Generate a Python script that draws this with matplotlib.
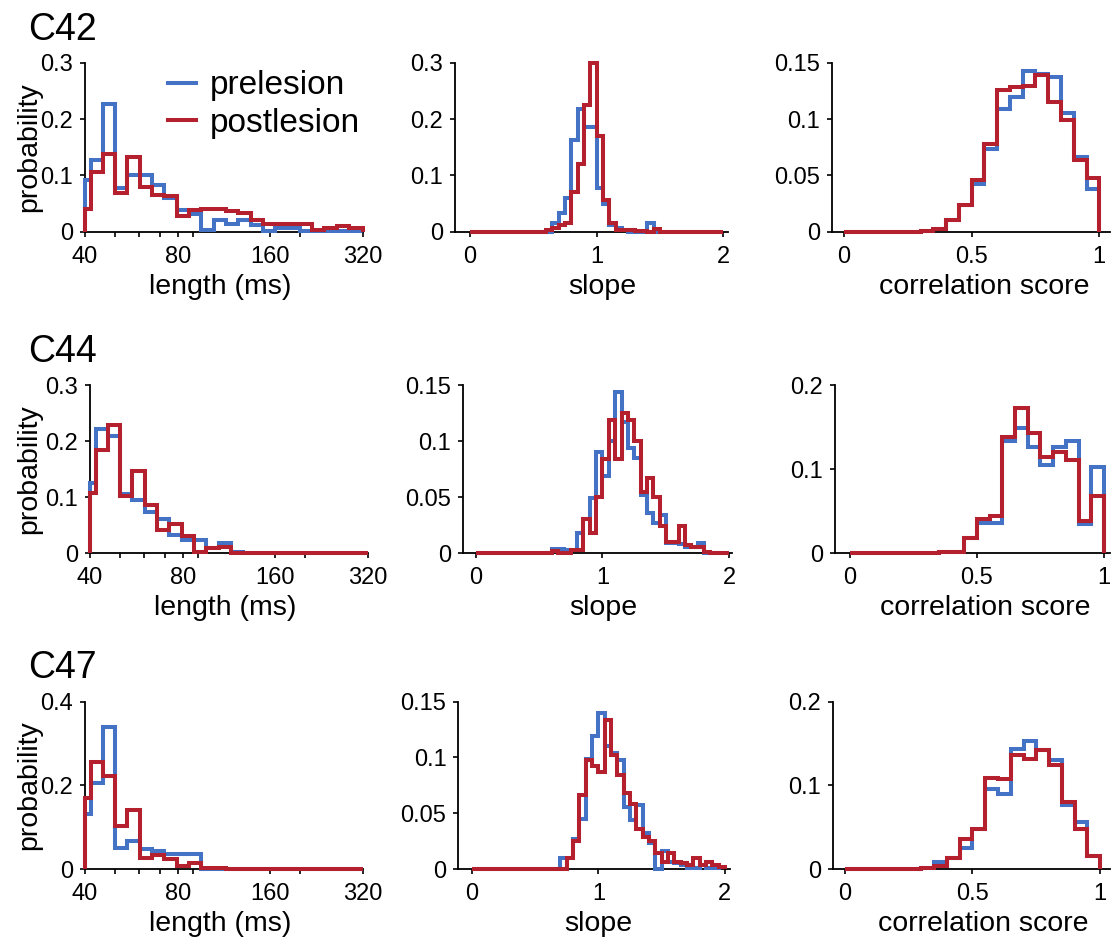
import matplotlib
matplotlib.use("Agg")
import matplotlib.pyplot as plt
import numpy as np
from matplotlib.ticker import FixedLocator, FuncFormatter, NullFormatter

plt.rcParams["font.family"] = ["Liberation Sans", "DejaVu Sans"]

BLUE = "#4472C4"
RED = "#B5202E"

ANIMALS = ["C42", "C44", "C47"]

# length bins are log spaced (0.04 in log10), clipped to the 40-320 ms axis
LENGTH_EDGES = [40.0] + list(10 ** np.arange(1.62, 2.5001, 0.04)) + [320.0]
SLOPE_EDGES = np.linspace(0, 2, 41)
CORR_EDGES = np.linspace(0, 1, 21)

# ---- C42 ----
C42_LEN_PRE = [0.092, 0.127, 0.227, 0.077, 0.100, 0.100, 0.083, 0.060, 0.038, 0.032,
               0.003, 0.021, 0.014, 0.021, 0.012, 0.001, 0.006, 0.006, 0.002, 0.001,
               0.001, 0.001, 0.001, 0.001]
C42_LEN_POST = [0.041, 0.106, 0.138, 0.068, 0.132, 0.080, 0.065, 0.063, 0.027, 0.038,
                0.041, 0.041, 0.036, 0.033, 0.020, 0.013, 0.013, 0.013, 0.013, 0.003,
                0.007, 0.011, 0.006, 0.006]
C42_SLOPE_PRE = [0] * 13 + [0.015, 0.033, 0.059, 0.163, 0.217, 0.186, 0.186, 0.077, 0.050,
                            0.012, 0.006, 0.003, 0, 0, 0, 0.015, 0, 0, 0, 0, 0, 0, 0,
                            0, 0, 0, 0]
C42_SLOPE_POST = [0] * 12 + [0.003, 0.006, 0.012, 0.015, 0.071, 0.121, 0.225, 0.300, 0.169,
                             0.056, 0.015, 0.003, 0.003, 0.003, 0.001, 0.001, 0, 0.004,
                             0, 0, 0, 0, 0, 0, 0, 0, 0, 0]
C42_CORR_PRE = [0, 0, 0, 0, 0, 0, 0.0005, 0.002, 0.010, 0.024, 0.042, 0.073, 0.109, 0.120,
                0.143, 0.140, 0.137, 0.105, 0.066, 0.038]
C42_CORR_POST = [0, 0, 0, 0, 0, 0, 0.001, 0.002, 0.010, 0.024, 0.046, 0.078, 0.126, 0.128,
                 0.129, 0.139, 0.115, 0.099, 0.064, 0.048]

# ---- C44 ----
C44_LEN_PRE = [0.125, 0.221, 0.209, 0.106, 0.095, 0.074, 0.062, 0.033, 0.024, 0.024,
               0.009, 0.018, 0.003, 0, 0, 0, 0, 0, 0, 0, 0, 0, 0, 0]
C44_LEN_POST = [0.108, 0.184, 0.229, 0.102, 0.146, 0.086, 0.042, 0.053, 0.031, 0.003,
                0.009, 0.012, 0.001, 0.001, 0.001, 0.001, 0.001, 0.001, 0.001, 0.001,
                0.001, 0.001, 0.001, 0.001]
C44_SLOPE_PRE = [0] * 12 + [0.0036, 0.0036, 0.003, 0.003, 0.018, 0.031, 0.049, 0.090, 0.069,
                            0.100, 0.144, 0.117, 0.094, 0.085, 0.052, 0.036, 0.027, 0.034,
                            0.009, 0.009, 0.008, 0.006, 0.006, 0.0095, 0.0006, 0, 0, 0]
C44_SLOPE_POST = [0] * 12 + [0.002, 0, 0, 0.003, 0.003, 0.031, 0.018, 0.050, 0.084, 0.119,
                             0.084, 0.125, 0.119, 0.100, 0.055, 0.067, 0.050, 0.024, 0.010,
                             0.010, 0.024, 0.0074, 0.006, 0.006, 0.0015, 0, 0, 0]
C44_CORR_PRE = [0, 0, 0, 0, 0, 0, 0.0004, 0.001, 0.002, 0.018, 0.036, 0.036, 0.133, 0.149,
                0.126, 0.105, 0.126, 0.133, 0.035, 0.102]
C44_CORR_POST = [0, 0, 0, 0, 0, 0, 0.0004, 0.001, 0.002, 0.018, 0.041, 0.044, 0.138, 0.173,
                 0.143, 0.114, 0.120, 0.111, 0.038, 0.068]

# ---- C47 ----
C47_LEN_PRE = [0.131, 0.205, 0.340, 0.051, 0.067, 0.047, 0.044, 0.035, 0.035, 0.035,
               0, 0, 0, 0, 0, 0, 0, 0, 0, 0, 0, 0, 0, 0]
C47_LEN_POST = [0.169, 0.255, 0.223, 0.104, 0.141, 0.027, 0.033, 0.024, 0.007, 0.015,
                0.003, 0.0015, 0.001, 0.001, 0.001, 0.001, 0.001, 0.001, 0.001, 0.001,
                0.001, 0.001, 0.001, 0.001]
C47_SLOPE_PRE = [0] * 14 + [0.0096, 0.010, 0.027, 0.045, 0.099, 0.119, 0.140, 0.110, 0.104,
                            0.098, 0.056, 0.044, 0.057, 0.032, 0.023, 0, 0.016, 0.0066,
                            0.005, 0.0036, 0.0006, 0.0006, 0.0036, 0.0006, 0.0006, 0.002]
C47_SLOPE_POST = [0] * 15 + [0.010, 0.025, 0.066, 0.098, 0.092, 0.087, 0.134, 0.102, 0.084,
                             0.068, 0.058, 0.036, 0.029, 0.025, 0.014, 0.006, 0.014, 0.0066,
                             0.005, 0.0036, 0.0096, 0.004, 0.0066, 0.0036, 0.002]
C47_CORR_PRE = [0, 0, 0, 0, 0, 0, 0.0008, 0.008, 0.0135, 0.025, 0.048, 0.096, 0.090, 0.144,
                0.153, 0.142, 0.130, 0.076, 0.056, 0.016]
C47_CORR_POST = [0, 0, 0, 0, 0, 0, 0.001, 0.003, 0.0135, 0.036, 0.048, 0.109, 0.107, 0.136,
                 0.131, 0.142, 0.124, 0.080, 0.048, 0.016]

LENGTH = [(C42_LEN_PRE, C42_LEN_POST), (C44_LEN_PRE, C44_LEN_POST), (C47_LEN_PRE, C47_LEN_POST)]
SLOPE = [(C42_SLOPE_PRE, C42_SLOPE_POST), (C44_SLOPE_PRE, C44_SLOPE_POST),
         (C47_SLOPE_PRE, C47_SLOPE_POST)]
CORR = [(C42_CORR_PRE, C42_CORR_POST), (C44_CORR_PRE, C44_CORR_POST),
        (C47_CORR_PRE, C47_CORR_POST)]

LEN_YTICKS = [[0, 0.1, 0.2, 0.3], [0, 0.1, 0.2, 0.3], [0, 0.2, 0.4]]
SLOPE_YTICKS = [[0, 0.1, 0.2, 0.3], [0, 0.05, 0.1, 0.15], [0, 0.05, 0.1, 0.15]]
CORR_YTICKS = [[0, 0.05, 0.1, 0.15], [0, 0.1, 0.2], [0, 0.1, 0.2]]

W, H = 1111, 948
ROWS_Y = [(62.7, 231.7), (385.0, 553.3), (701.7, 869.0)]
LEFT_X = [(85, 363), (90, 368), (85, 363)]
MID_X = [(455, 728, -0.118, 2.036), (462.7, 732, -0.102, 2.021), (458.3, 730, -0.106, 2.04)]
RIGHT_X = [(831.7, 1110, -0.048, 1.042), (835, 1110, -0.059, 1.024), (832.7, 1110, -0.048, 1.039)]
TITLE_Y = [40, 362, 678]
# horizontal centres of the x labels in the original
XLABEL_CX = [(220, 602, 984), (225, 603, 985), (220, 598, 983)]
XLABEL_DROP = 42  # px from the x axis down to the top of the x label

fig = plt.figure(figsize=(W / 100, H / 100), dpi=100)


def make_axes(l, r, t, b):
    ax = fig.add_axes([l / W, 1 - b / H, (r - l) / W, (b - t) / H])
    for side in ("top", "right"):
        ax.spines[side].set_visible(False)
    for side in ("left", "bottom"):
        ax.spines[side].set_linewidth(1.3)
    ax.tick_params(which="both", direction="out", length=3.5, width=1.2, labelsize=17)
    ax.tick_params(axis="x", which="both", pad=6.5)
    ax.tick_params(axis="y", which="both", pad=5)
    return ax


def draw(ax, edges, pre, post, yticks):
    ax.stairs(pre, edges, baseline=0, color=BLUE, lw=2.9, clip_on=False,
              zorder=3, label="prelesion")
    ax.stairs(post, edges, baseline=0, color=RED, lw=2.9, clip_on=False,
              zorder=4, label="postlesion")
    ax.set_ylim(0, yticks[-1])
    ax.set_yticks(yticks)
    ax.yaxis.set_major_formatter(FuncFormatter(lambda v, _: f"{v:g}"))


def xlabel(ax, text, cx, l, r, hgt):
    ax.set_xlabel(text, fontsize=20.5, va="top")
    ax.xaxis.set_label_coords((cx - l) / (r - l), -XLABEL_DROP / hgt)


for i in range(3):
    t, b = ROWS_Y[i]
    hgt = b - t

    # length
    l, r = LEFT_X[i]
    ax = make_axes(l, r, t, b)
    draw(ax, LENGTH_EDGES, LENGTH[i][0], LENGTH[i][1], LEN_YTICKS[i])
    ax.set_xscale("log", base=2)
    ax.set_xlim(40, 320)
    ax.xaxis.set_major_locator(FixedLocator([40, 80, 160, 320]))
    ax.xaxis.set_major_formatter(FuncFormatter(lambda v, _: f"{v:g}"))
    ax.xaxis.set_minor_locator(FixedLocator([50, 60, 70, 90, 200]))
    ax.xaxis.set_minor_formatter(NullFormatter())
    xlabel(ax, "length (ms)", XLABEL_CX[i][0], l, r, hgt)
    ax.set_ylabel("probability", fontsize=20.5)
    ax.yaxis.set_label_coords((42 - l) / (r - l), 0.5)
    if i == 0:
        ax.legend(loc="upper left", bbox_to_anchor=((168 - l) / (r - l), 0.955),
                  frameon=False, fontsize=24, handlelength=0.85, handletextpad=0.42,
                  labelspacing=0.2, borderpad=0, borderaxespad=0)

    # slope
    l, r, x0, x1 = MID_X[i]
    ax = make_axes(l, r, t, b)
    draw(ax, SLOPE_EDGES, SLOPE[i][0], SLOPE[i][1], SLOPE_YTICKS[i])
    ax.set_xlim(x0, x1)
    ax.set_xticks([0, 1, 2])
    xlabel(ax, "slope", XLABEL_CX[i][1], l, r, hgt)

    # correlation score
    l, r, x0, x1 = RIGHT_X[i]
    ax = make_axes(l, r, t, b)
    draw(ax, CORR_EDGES, CORR[i][0], CORR[i][1], CORR_YTICKS[i])
    ax.set_xlim(x0, x1)
    ax.set_xticks([0, 0.5, 1])
    ax.xaxis.set_major_formatter(FuncFormatter(lambda v, _: f"{v:g}"))
    xlabel(ax, "correlation score", XLABEL_CX[i][2], l, r, hgt)

    fig.text(28 / W, 1 - TITLE_Y[i] / H, ANIMALS[i], fontsize=27, va="baseline")

fig.savefig("out.png", dpi=100)
